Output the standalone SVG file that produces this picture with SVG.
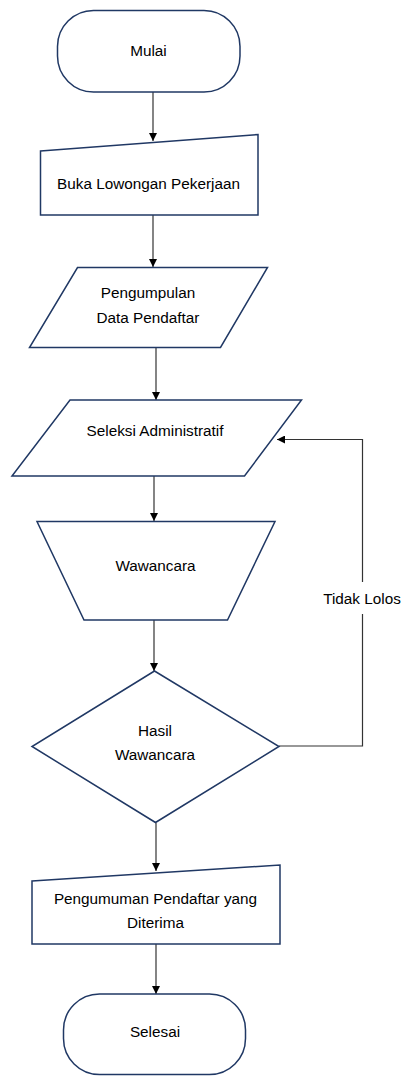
<svg xmlns="http://www.w3.org/2000/svg" width="402" height="1076" viewBox="0 0 402 1076">
<style>
.n{fill:#fff;stroke:#203864;stroke-width:1.5}
.t{font-family:"Liberation Sans",Arial,sans-serif;font-size:15.3px;fill:#000;text-anchor:middle;dominant-baseline:central}
.c{fill:none;stroke:#333;stroke-width:1.2}
</style>
<defs>
<marker id="ah" viewBox="0 0 10 10" refX="10" refY="5" markerWidth="8" markerHeight="8" markerUnits="userSpaceOnUse" orient="auto">
<path d="M0,0 L10,5 L0,10 Z" fill="#000"/>
</marker>
</defs>
<rect width="402" height="1076" fill="#fff"/>
<g id="connectors">
<path class="c" d="M153,92 V141" marker-end="url(#ah)"/>
<path class="c" d="M153,215 V267" marker-end="url(#ah)"/>
<path class="c" d="M156,347 V400" marker-end="url(#ah)"/>
<path class="c" d="M154,476 V521" marker-end="url(#ah)"/>
<path class="c" d="M154,620 V671" marker-end="url(#ah)"/>
<path class="c" d="M279,746 H362.5 V439.5 H277" marker-end="url(#ah)"/>
<path class="c" d="M156,823 V871" marker-end="url(#ah)"/>
<path class="c" d="M156,944 V994" marker-end="url(#ah)"/>
<rect x="328" y="582" width="68" height="32" fill="#fff"/>
<text class="t" x="362" y="598.5">Tidak Lolos</text>
</g>
<g id="mulai">
<rect class="n" x="57.5" y="10.5" width="182.5" height="81.5" rx="36" ry="36"/>
<text class="t" x="148.5" y="50.5">Mulai</text>
</g>
<g id="buka">
<path class="n" d="M40.5,151 L258,134.5 L258,215 L40.5,215 Z"/>
<text class="t" x="148.5" y="183">Buka Lowongan Pekerjaan</text>
</g>
<g id="pengumpulan">
<path class="n" d="M77.5,267.5 L267.5,267.5 L220.5,347.5 L29.5,347.5 Z"/>
<text class="t" x="148" y="292.5">Pengumpulan</text>
<text class="t" x="148" y="317.5">Data Pendaftar</text>
</g>
<g id="seleksi">
<path class="n" d="M70,400 L301.5,400 L244.5,476 L12,476 Z"/>
<text class="t" x="155" y="430">Seleksi Administratif</text>
</g>
<g id="wawancara">
<path class="n" d="M37,521.5 L275,521.5 L227.5,620 L84,620 Z"/>
<text class="t" x="155.5" y="565">Wawancara</text>
</g>
<g id="hasil">
<path class="n" d="M154.5,671 L279,746.5 L155.5,822.5 L32,746.5 Z"/>
<text class="t" x="155" y="730.5">Hasil</text>
<text class="t" x="155" y="754">Wawancara</text>
</g>
<g id="pengumuman">
<path class="n" d="M32,881 L280,865 L280,944 L32,944 Z"/>
<text class="t" x="155.5" y="898.5">Pengumuman Pendaftar yang</text>
<text class="t" x="155.5" y="922.5">Diterima</text>
</g>
<g id="selesai">
<rect class="n" x="63.5" y="994" width="182" height="80.5" rx="36" ry="36"/>
<text class="t" x="155" y="1031.5">Selesai</text>
</g>
</svg>
